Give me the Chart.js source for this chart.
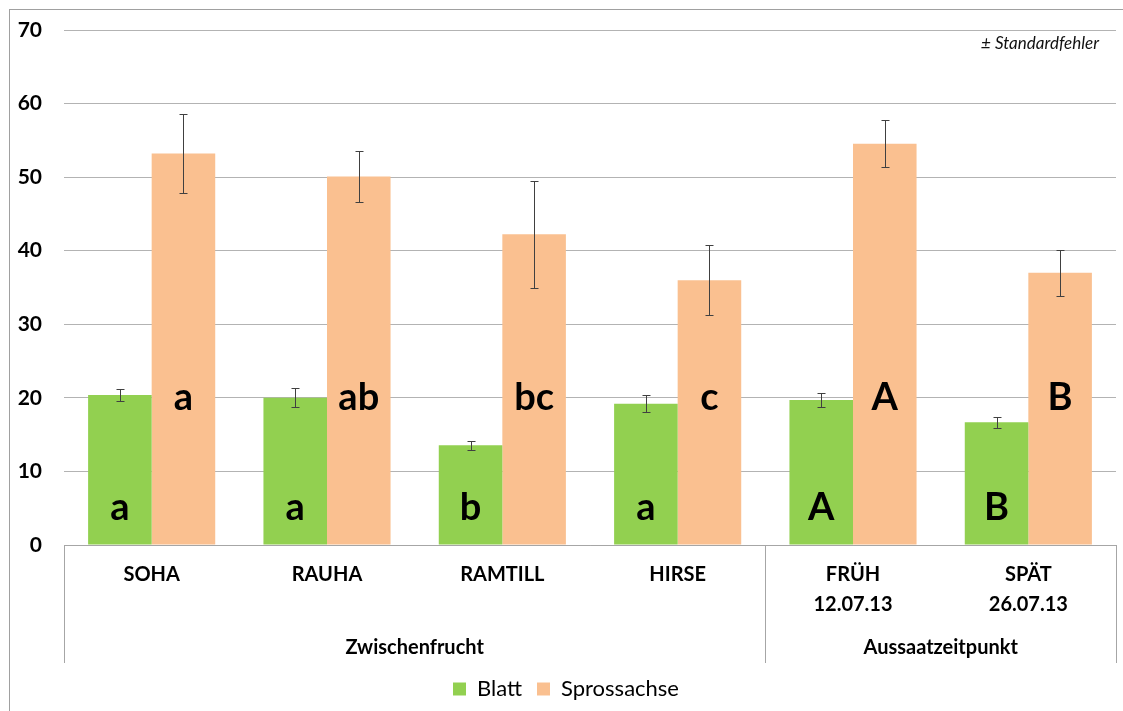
<!DOCTYPE html>
<html>
<head>
<meta charset="utf-8">
<script src="https://cdn.jsdelivr.net/npm/chart.js@4.4.0/dist/chart.umd.min.js"></script>
<style>
html,body{margin:0;padding:0;background:#fff;}
#wrap{width:1123px;height:711px;position:relative;}
</style>
</head>
<body>
<div id="wrap"><canvas id="c" width="1123" height="711"></canvas></div>
<script>
// ---- data ----
const categories = ['SOHA', 'RAUHA', 'RAMTILL', 'HIRSE', ['FRÜH', '12.07.13'], ['SPÄT', '26.07.13']];
const groupNames = ['Zwischenfrucht', 'Aussaatzeitpunkt'];
const groupSpans = [4, 2];
const blatt = [20.4, 20.0, 13.55, 19.2, 19.7, 16.7];
const blattErr = [0.85, 1.3, 0.6, 1.15, 0.9, 0.75];
const spross = [53.2, 50.1, 42.25, 36.0, 54.55, 37.0];
const sprossErr = [5.4, 3.45, 7.25, 4.8, 3.15, 3.1];
const blattLetters = ['a', 'a', 'b', 'a', 'A', 'B'];
const sprossLetters = ['a', 'ab', 'bc', 'c', 'A', 'B'];
const yTicks = [0, 10, 20, 30, 40, 50, 60, 70];

const FONT = 'Lato, "Open Sans", sans-serif';

const errorBars = {
  id: 'errorBars',
  afterDatasetsDraw(chart) {
    const ctx = chart.ctx;
    const y = chart.scales.y;
    const errs = [blattErr, sprossErr];
    ctx.save();
    ctx.strokeStyle = '#404040';
    ctx.lineWidth = 1;
    chart.data.datasets.forEach((ds, di) => {
      const meta = chart.getDatasetMeta(di);
      meta.data.forEach((el, i) => {
        const v = ds.data[i], e = errs[di][i];
        const x = Math.round(el.x) + 0.5;
        const yt = Math.round(y.getPixelForValue(v + e)) + 0.5;
        const yb = Math.round(y.getPixelForValue(v - e)) + 0.5;
        ctx.beginPath();
        ctx.moveTo(x, yt); ctx.lineTo(x, yb);
        ctx.moveTo(x - 4, yt); ctx.lineTo(x + 4, yt);
        ctx.moveTo(x - 4, yb); ctx.lineTo(x + 4, yb);
        ctx.stroke();
      });
    });
    ctx.restore();
  }
};

const letterLabels = {
  id: 'letterLabels',
  afterDatasetsDraw(chart) {
    const ctx = chart.ctx;
    const y = chart.scales.y;
    const sets = [blattLetters, sprossLetters];
    ctx.save();
    ctx.fillStyle = '#000';
    ctx.font = 'bold 38px ' + FONT;
    ctx.textAlign = 'center';
    ctx.textBaseline = 'alphabetic';
    chart.data.datasets.forEach((ds, di) => {
      const meta = chart.getDatasetMeta(di);
      meta.data.forEach((el, i) => {
        const base = di === 0 ? y.getPixelForValue(0) - 25 : y.getPixelForValue(20) + 12;
        ctx.fillText(sets[di][i], el.x, base);
      });
    });
    ctx.restore();
  }
};

const groupAxis = {
  id: 'groupAxis',
  afterDraw(chart) {
    const ctx = chart.ctx;
    const xs = chart.scales.x;
    const n = chart.data.labels.length;
    const w = (xs.right - xs.left) / n;
    const top = chart.chartArea.bottom;
    const bottom = xs.bottom;
    ctx.save();
    ctx.strokeStyle = '#a6a6a6';
    ctx.lineWidth = 1;
    let idx = 0;
    const bounds = [0];
    groupSpans.forEach(s => { idx += s; bounds.push(idx); });
    bounds.forEach(b => {
      const x = Math.round(xs.left + b * w) + 0.5;
      ctx.beginPath(); ctx.moveTo(x, top); ctx.lineTo(x, bottom); ctx.stroke();
    });
    ctx.fillStyle = '#000';
    ctx.font = 'bold 20px ' + FONT;
    ctx.textAlign = 'center';
    ctx.textBaseline = 'middle';
    groupNames.forEach((g, gi) => {
      const cx = xs.left + (bounds[gi] + bounds[gi + 1]) / 2 * w;
      ctx.fillText(g, cx, bottom - 15);
    });
    // note text
    ctx.font = 'italic 17px ' + FONT;
    ctx.textAlign = 'right';
    ctx.fillStyle = '#111';
    ctx.fillText('± Standardfehler', xs.right - 17, chart.chartArea.top + 14);
    // outer frame
    ctx.strokeStyle = '#a0a0a0';
    ctx.strokeRect(9.5, 9.5, 1200, 800);
    ctx.restore();
  }
};

new Chart(document.getElementById('c'), {
  type: 'bar',
  data: {
    labels: categories,
    datasets: [
      { label: 'Blatt', data: blatt, backgroundColor: '#92D050', borderWidth: 0,
        categoryPercentage: 0.725, barPercentage: 1.0 },
      { label: 'Sprossachse', data: spross, backgroundColor: '#FAC090', borderWidth: 0,
        categoryPercentage: 0.725, barPercentage: 1.0 }
    ]
  },
  options: {
    responsive: false,
    animation: false,
    devicePixelRatio: 1,
    layout: { padding: { left: 16, right: 7, top: 30, bottom: 1 } },
    scales: {
      y: {
        min: 0, max: 70,
        afterFit(s) { s.width = 48; },
        afterBuildTicks(s) { s.ticks = yTicks.map(v => ({ value: v })); },
        grid: { color: '#b3b3b3', lineWidth: 1, drawTicks: true, tickLength: 18, tickColor: 'rgba(0,0,0,0)' },
        border: { display: false },
        ticks: { padding: 4, color: '#000', font: { family: FONT, size: 21, weight: 'bold' } }
      },
      x: {
        afterFit(s) { s.height = 118; },
        grid: { display: false, drawTicks: false },
        border: { display: true, color: '#a6a6a6', width: 1 },
        ticks: { padding: 15, maxRotation: 0, autoSkip: false, color: '#000',
          font: { family: FONT, size: 20, weight: 'bold', lineHeight: 1.475 } }
      }
    },
    plugins: {
      legend: {
        position: 'bottom',
        labels: { boxWidth: 13, boxHeight: 13, padding: 15, color: '#000',
          font: { family: FONT, size: 22 } }
      },
      tooltip: { enabled: false }
    }
  },
  plugins: [errorBars, letterLabels, groupAxis]
});
</script>
</body>
</html>
